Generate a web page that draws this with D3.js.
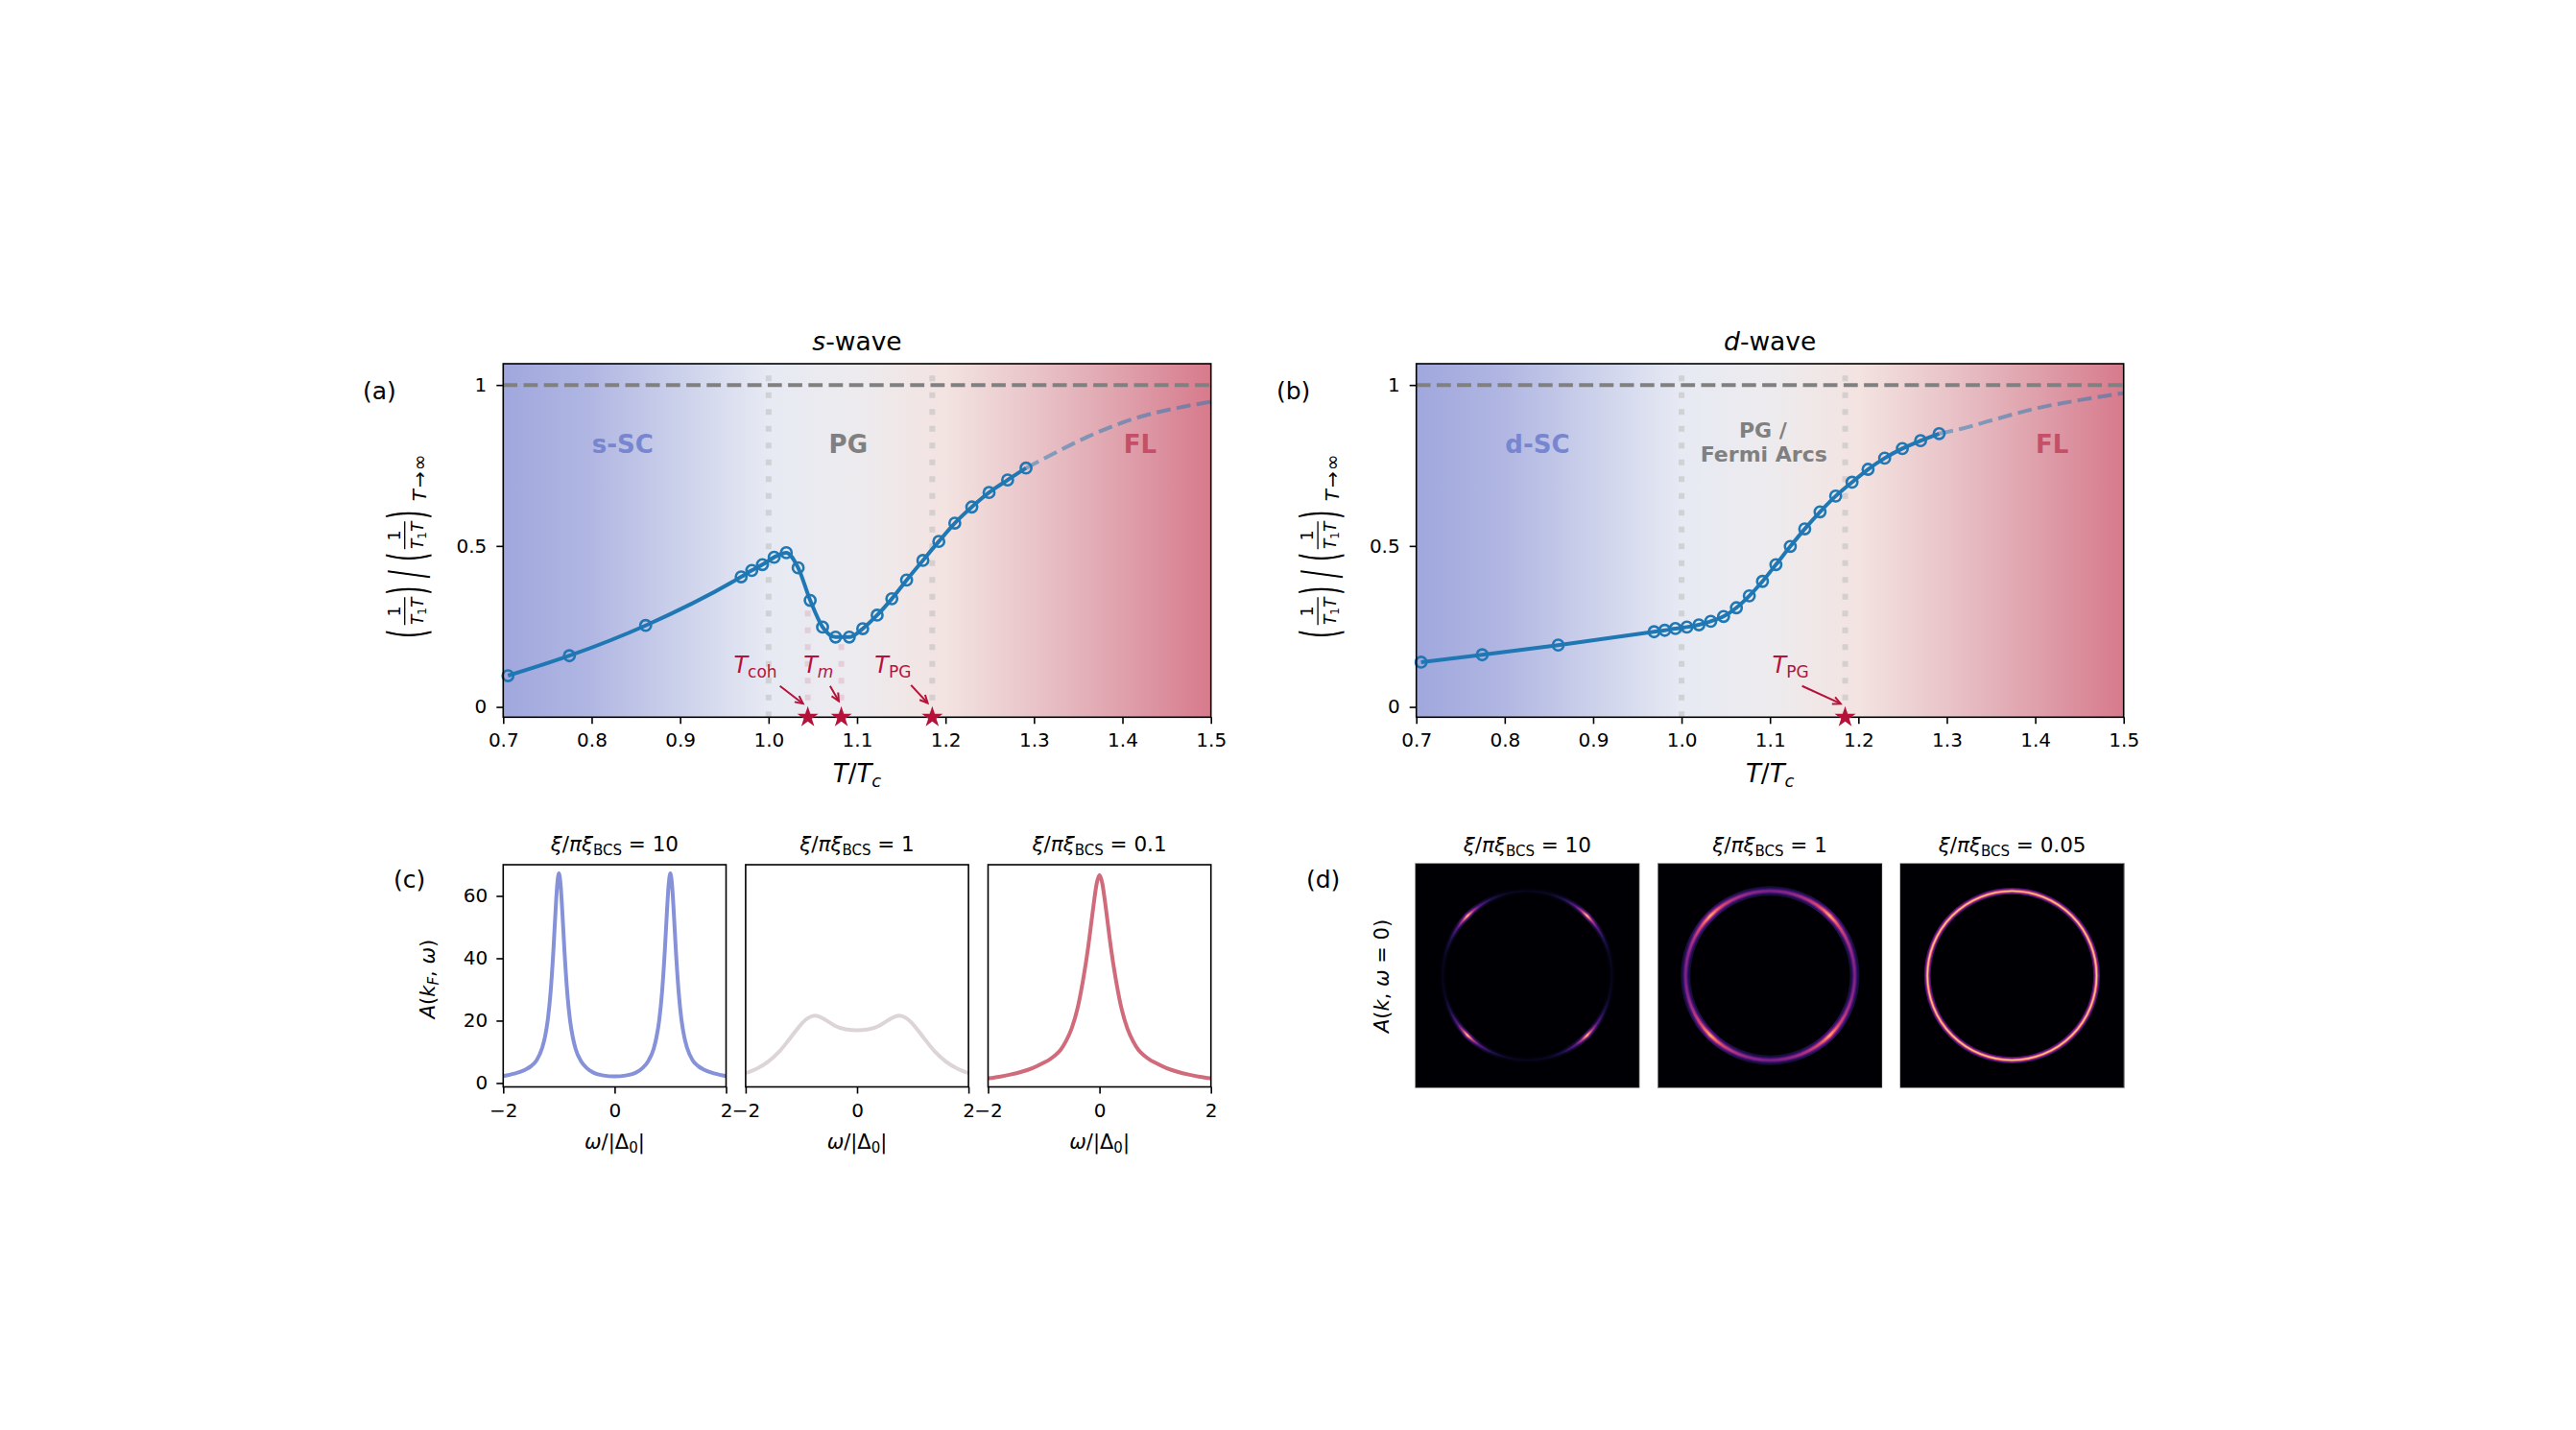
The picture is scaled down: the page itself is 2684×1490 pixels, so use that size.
<!DOCTYPE html>
<html><head><meta charset="utf-8">
<script src="https://cdn.jsdelivr.net/npm/d3@7"></script>
<style>
body{margin:0;background:#fff;}
#wrap{position:relative;width:2684px;height:1490px;overflow:hidden;}
svg{position:absolute;left:0;top:0;}
canvas{position:absolute;}
</style></head><body><div id="wrap"></div>
<script>
// ---------------- data ----------------
const sT    = [0.7054,0.7748,0.861,0.969,0.981,0.993,1.0063,1.020,1.0334,1.047,1.061,1.0757,1.0912,1.1064,1.1227,1.1393,1.156,1.1744,1.1924,1.2105,1.2297,1.2492,1.2702,1.291];
const sRate = [0.097,0.159,0.253,0.404,0.424,0.442,0.465,0.479,0.432,0.331,0.248,0.217,0.217,0.243,0.285,0.336,0.394,0.455,0.514,0.571,0.621,0.666,0.705,0.742];
const sExtT    = [1.291,1.3136,1.3605,1.411,1.4618,1.5];
const sExtRate = [0.742,0.7745,0.839,0.8937,0.9285,0.948];
const dT    = [0.7054,0.7745,0.8604,0.9689,0.981,0.993,1.006,1.0196,1.033,1.0475,1.062,1.0766,1.0915,1.1067,1.123,1.1393,1.1566,1.1743,1.1928,1.2109,1.2297,1.2497,1.2703,1.2913];
const dRate = [0.139,0.162,0.192,0.2335,0.238,0.2434,0.248,0.255,0.266,0.281,0.308,0.345,0.390,0.442,0.4986,0.553,0.606,0.655,0.698,0.738,0.7727,0.8025,0.827,0.849];
const dExtT    = [1.2913,1.3165,1.349,1.403,1.45,1.5];
const dExtRate = [0.849,0.864,0.889,0.9285,0.953,0.975];

const xTicks = [0.7,0.8,0.9,1.0,1.1,1.2,1.3,1.4,1.5];
const xTickLabels = ["0.7","0.8","0.9","1.0","1.1","1.2","1.3","1.4","1.5"];
const yTicks = [0,0.5,1];
const yTickLabels = ["0","0.5","1"];

const Tc = 1.0, Tcoh = 1.0443, Tm = 1.0822, TPG = 1.185;
const markHeightsS = [0.31,0.2];   // faint guide heights at Tcoh, Tm

const bgStops  = [0.7,0.8,0.9,1.0,1.1,1.2,1.3,1.4,1.5];
const bgColors = ["#a0a7dd","#b1b7e2","#ccd1eb","#e7eaf3","#edebee","#f3e3e1","#e9c4c9","#dfa1ac","#d77a8c"];

// panel (c) spectral functions
const wBlue = [-2,-1.8,-1.6,-1.5,-1.4,-1.3,-1.25,-1.2,-1.15,-1.1,-1.06,-1.03,-1,-0.97,-0.94,-0.9,-0.85,-0.8,-0.75,-0.7,-0.6,-0.5,-0.4,-0.2,0,0.2,0.4,0.5,0.6,0.7,0.75,0.8,0.85,0.9,0.94,0.97,1,1.03,1.06,1.1,1.15,1.2,1.25,1.3,1.4,1.5,1.6,1.8,2];
const aBlue = [2.2,3.0,4.3,5.4,7.3,11.3,14.8,20.2,29,42.2,55.3,63.6,67.2,63.6,55.3,42.2,28.9,20.1,14.6,10.9,6.9,4.8,3.5,2.4,2.1,2.4,3.5,4.8,6.9,10.9,14.6,20.1,28.9,42.2,55.3,63.6,67.2,63.6,55.3,42.2,29,20.2,14.8,11.3,7.3,5.4,4.3,3.0,2.2];
const wGray = [-2,-1.8,-1.6,-1.4,-1.2,-1.0,-0.9,-0.8,-0.75,-0.7,-0.6,-0.5,-0.4,-0.2,0,0.2,0.4,0.5,0.6,0.7,0.75,0.8,0.9,1.0,1.2,1.4,1.6,1.8,2];
const aGray = [3.2,4.6,6.8,10.0,14.4,18.9,20.6,21.5,21.6,21.4,20.6,19.5,18.4,17.2,16.9,17.2,18.4,19.5,20.6,21.4,21.6,21.5,20.6,18.9,14.4,10.0,6.8,4.6,3.2];
const wRed = [-2,-1.8,-1.6,-1.4,-1.2,-1.0,-0.9,-0.8,-0.7,-0.6,-0.5,-0.4,-0.3,-0.2,-0.15,-0.1,-0.05,0,0.05,0.1,0.15,0.2,0.3,0.4,0.5,0.6,0.7,0.8,0.9,1.0,1.2,1.4,1.6,1.8,2];
const aRed = [1.5,2.0,2.7,3.6,4.8,6.5,7.5,8.8,10.6,13.5,17.5,23.5,32.5,44,51,58,64,66.7,64,58,51,44,32.5,23.5,17.5,13.5,10.6,8.8,7.5,6.5,4.8,3.6,2.7,2.0,1.5];
const cTitles = ["10","1","0.1"];
const cYTicks = [0,20,40,60];

// panel (d) ring intensity vs angle around the Fermi surface
const ringAngles = [0,15,25,35,40,45,50,55,65,75,90,105,115,125,130,135,140,145,155,165,180,195,205,215,220,225,230,235,245,255,270,285,295,305,310,315,320,325,335,345,360];
const ringI10 = [0.05,0.07,0.14,0.3,0.52,0.88,0.52,0.3,0.14,0.07,0.05, 0.07,0.14,0.3,0.52,0.88,0.52,0.3,0.14,0.07,0.05, 0.07,0.14,0.3,0.52,0.88,0.52,0.3,0.14,0.07,0.05, 0.07,0.14,0.3,0.52,0.88,0.52,0.3,0.14,0.07,0.05];
const ringI1  = [0.36,0.4,0.48,0.6,0.7,0.82,0.7,0.6,0.48,0.4,0.36, 0.4,0.48,0.6,0.7,0.82,0.7,0.6,0.48,0.4,0.36, 0.4,0.48,0.6,0.7,0.82,0.7,0.6,0.48,0.4,0.36, 0.4,0.48,0.6,0.7,0.82,0.7,0.6,0.48,0.4,0.36];
const ringI005 = [0.87,0.87,0.87,0.87,0.87,0.87,0.87,0.87,0.87,0.87,0.87,0.87,0.87,0.87,0.87,0.87,0.87,0.87,0.87,0.87,0.87,0.87,0.87,0.87,0.87,0.87,0.87,0.87,0.87,0.87,0.87,0.87,0.87,0.87,0.87,0.87,0.87,0.87,0.87,0.87,0.87];
const ringWidths = [1.3,2.0,1.35];
const dTitles = ["10","1","0.05"];
const kF = 1.0;

// ---------------- drawing ----------------
const FONT = "DejaVu Sans";
const RED = "#b5123a";
const wrap = d3.select("#wrap");
const svg = wrap.append("svg").attr("width",2684).attr("height",1490)
  .attr("font-family",FONT);
const defs = svg.append("defs");

const yDom = [-0.032,1.066];
const topY = d3.scaleLinear(yDom,[747.3,379]);

function topYLabel(x0,y0){
  const g = svg.append("g").attr("transform",`translate(${x0},${y0}) rotate(-90)`);
  const paren = (lx,ch)=>{
    g.append("g").attr("transform",`translate(${lx},4.5) scale(1,2.2)`)
     .append("text").attr("font-size",24).attr("y",7.6).attr("text-anchor","middle").text(ch);
  };
  const frac = (cx)=>{
    g.append("text").attr("x",cx).attr("y",-5).attr("font-size",17).attr("text-anchor","middle").text("1");
    g.append("line").attr("x1",cx-14.5).attr("x2",cx+14.5).attr("y1",0).attr("y2",0).attr("stroke","#000").attr("stroke-width",1.3);
    const t = g.append("text").attr("x",cx).attr("y",19).attr("font-size",17).attr("text-anchor","middle");
    t.append("tspan").attr("font-style","italic").text("T");
    t.append("tspan").attr("font-size",12).attr("dy",3).text("1");
    t.append("tspan").attr("font-style","italic").attr("dy",-3).text("T");
  };
  paren(8,"(");
  frac(31.5);
  paren(53,")");
  paren(70,"/");
  paren(88,"(");
  frac(110.5);
  paren(132,")");
  const s = g.append("text").attr("x",146).attr("y",22).attr("font-size",20);
  s.append("tspan").attr("font-style","italic").text("T");
  s.append("tspan").attr("dx",2).text("→");
  s.append("tspan").attr("dx",1).text("∞");
}

function drawTop(o){
  const x = d3.scaleLinear([0.7,1.5],[o.left,o.right]);
  const y = topY;
  const g = svg.append("g");
  const grad = defs.append("linearGradient").attr("id","bg"+o.id)
    .attr("gradientUnits","userSpaceOnUse").attr("x1",x(0.7)).attr("x2",x(1.5)).attr("y1",0).attr("y2",0);
  bgStops.forEach((s,i)=>grad.append("stop").attr("offset",(s-0.7)/0.8).attr("stop-color",bgColors[i]));
  g.append("rect").attr("x",x(0.7)).attr("y",y(yDom[1])).attr("width",x(1.5)-x(0.7))
    .attr("height",y(yDom[0])-y(yDom[1])).attr("fill",`url(#bg${o.id})`);

  [Tc,TPG].forEach(v=>g.append("line").attr("x1",x(v)).attr("x2",x(v))
    .attr("y1",y(yDom[0])).attr("y2",y(yDom[1]))
    .attr("stroke","#c2c2c2").attr("stroke-opacity",0.6).attr("stroke-width",6).attr("stroke-dasharray","6,11.5"));
  if(o.marks){
    o.marks.forEach((v,i)=>g.append("line").attr("x1",x(v)).attr("x2",x(v))
      .attr("y1",y(yDom[0])).attr("y2",y(markHeightsS[i]))
      .attr("stroke",RED).attr("stroke-opacity",0.13).attr("stroke-width",6).attr("stroke-dasharray","6,11.5"));
  }
  g.append("line").attr("x1",x(0.7)).attr("x2",x(1.5)).attr("y1",y(1)).attr("y2",y(1))
    .attr("stroke","#808080").attr("stroke-width",4).attr("stroke-dasharray","14.8,6.4");

  const line = d3.line().x(d=>x(d[0])).y(d=>y(d[1])).curve(d3.curveMonotoneX);
  g.append("path").attr("d",line(o.extT.map((t,i)=>[t,o.extR[i]])))
    .attr("fill","none").attr("stroke","#1f77b4").attr("stroke-opacity",0.5).attr("stroke-width",4)
    .attr("stroke-dasharray","14.8,6.4");
  const pts = o.T.map((t,i)=>[t,o.R[i]]);
  g.append("path").attr("d",line(pts)).attr("fill","none").attr("stroke","#1f77b4").attr("stroke-width",4);
  g.selectAll("circle.m").data(pts).join("circle").attr("class","m")
    .attr("cx",d=>x(d[0])).attr("cy",d=>y(d[1])).attr("r",5.6)
    .attr("fill","none").attr("stroke","#1f77b4").attr("stroke-width",2.6);

  const lab = (tx,ty,txt,col,size)=>g.append("text").attr("x",x(tx)).attr("y",y(ty))
    .attr("text-anchor","middle").attr("dominant-baseline","central")
    .attr("font-weight","bold").attr("font-size",size).attr("fill",col).text(txt);
  o.labels.forEach(l=>lab(l[0],l[1],l[2],l[3],l[4]));

  const xa = g.append("g").attr("transform",`translate(0,${y(yDom[0])})`)
    .call(d3.axisBottom(x).tickValues(xTicks).tickFormat((d,i)=>xTickLabels[i]).tickSize(7).tickPadding(10));
  const ya = g.append("g").attr("transform",`translate(${x(0.7)},0)`)
    .call(d3.axisLeft(y).tickValues(yTicks).tickFormat((d,i)=>yTickLabels[i]).tickSize(7).tickPadding(10));
  [xa,ya].forEach(a=>{a.attr("font-size",20).attr("font-family",FONT);
    a.select(".domain").remove(); a.selectAll("line").attr("stroke","#000").attr("stroke-width",1.6);
    a.selectAll("text").attr("fill","#000");});
  g.append("rect").attr("x",x(0.7)).attr("y",y(yDom[1])).attr("width",x(1.5)-x(0.7))
    .attr("height",y(yDom[0])-y(yDom[1])).attr("fill","none").attr("stroke","#000").attr("stroke-width",1.6);

  const star = d3.symbol(d3.symbolStar,150);
  o.stars.forEach(v=>g.append("path").attr("d",star()).attr("fill",RED)
    .attr("transform",`translate(${x(v)},${y(yDom[0])})`));
  o.anns.forEach(a=>{
    const t = g.append("text").attr("x",x(a.tx)).attr("y",y(0.107)).attr("text-anchor","middle")
      .attr("font-size",24).attr("fill",RED);
    t.append("tspan").attr("font-style","italic").text("T");
    t.append("tspan").attr("font-size",17).attr("dy",5).attr("font-style",a.subItalic?"italic":"normal").text(a.sub);
    const x1=x(a.x1),y1=y(a.y1),x2=x(a.x2),y2=y(a.y2);
    g.append("line").attr("x1",x1).attr("y1",y1).attr("x2",x2).attr("y2",y2)
      .attr("stroke",RED).attr("stroke-width",2);
    const ang = Math.atan2(y2-y1,x2-x1), L=9, sp=0.45;
    g.append("path").attr("d",`M${x2-L*Math.cos(ang-sp)},${y2-L*Math.sin(ang-sp)}L${x2},${y2}L${x2-L*Math.cos(ang+sp)},${y2-L*Math.sin(ang+sp)}`)
      .attr("fill","none").attr("stroke",RED).attr("stroke-width",2);
  });

  const cx = (o.left+o.right)/2;
  const tt = svg.append("text").attr("x",cx).attr("y",365).attr("text-anchor","middle").attr("font-size",26.5);
  tt.append("tspan").attr("font-style","italic").text(o.titleIt);
  tt.append("tspan").text("-wave");
  const xl = svg.append("text").attr("x",cx).attr("y",815).attr("text-anchor","middle").attr("font-size",26);
  xl.append("tspan").attr("font-style","italic").text("T");
  xl.append("tspan").text("/");
  xl.append("tspan").attr("font-style","italic").text("T");
  xl.append("tspan").attr("font-style","italic").attr("font-size",18).attr("dy",5).text("c");
  svg.append("text").attr("x",o.tagX).attr("y",416).attr("font-size",25).text(o.tag);
  topYLabel(o.left-102.6,668.3);
}

drawTop({id:"a",left:524.3,right:1261.7,T:sT,R:sRate,extT:sExtT,extR:sExtRate,marks:[Tcoh,Tm],
  labels:[[0.835,0.815,"s-SC","#7886d0",26],[1.09,0.815,"PG","#808080",26],[1.42,0.815,"FL","#c64f67",26]],
  stars:[Tcoh,Tm,TPG],
  anns:[{tx:0.985,sub:"coh",x1:1.0128,y1:0.065,x2:1.0389,y2:0.010},
        {tx:1.0564,sub:"m",subItalic:true,x1:1.0695,y1:0.065,x2:1.0793,y2:0.018},
        {tx:1.1405,sub:"PG",x1:1.161,y1:0.0676,x2:1.1798,y2:0.012}],
  titleIt:"s",tag:"(a)",tagX:378});
drawTop({id:"b",left:1475.7,right:2212.7,T:dT,R:dRate,extT:dExtT,extR:dExtRate,marks:null,
  labels:[[0.837,0.815,"d-SC","#7886d0",26],[1.092,0.859,"PG /","#808080",22],[1.093,0.785,"Fermi Arcs","#808080",22],[1.419,0.815,"FL","#c64f67",26]],
  stars:[TPG],
  anns:[{tx:1.1232,sub:"PG",x1:1.1363,y1:0.065,x2:1.1799,y2:0.010}],
  titleIt:"d",tag:"(b)",tagX:1330});

function xiTitle(cx,base,val){
  const t = svg.append("text").attr("x",cx).attr("y",base).attr("text-anchor","middle").attr("font-size",21.5);
  t.append("tspan").attr("font-style","italic").text("ξ");
  t.append("tspan").text("/");
  t.append("tspan").attr("font-style","italic").text("πξ");
  t.append("tspan").attr("font-size",15).attr("dy",4).text("BCS");
  t.append("tspan").attr("dy",-4).text(" = "+val);
}

// ---------------- panel (c) ----------------
const cLefts = [524.3,776.9,1029.5], cW = 232.2, cTop = 901, cBot = 1132.5;
const cSeries = [[wBlue,aBlue,"#8591d9"],[wGray,aGray,"#dcd4d7"],[wRed,aRed,"#d06b7c"]];
const cy = d3.scaleLinear([-1.25,70],[cBot,cTop]);
cLefts.forEach((L,k)=>{
  const x = d3.scaleLinear([-2,2],[L,L+cW]);
  const g = svg.append("g");
  const [w,a,col] = cSeries[k];
  const ln = d3.line().x(d=>x(d[0])).y(d=>cy(d[1])).curve(d3.curveMonotoneX);
  g.append("path").attr("d",ln(w.map((v,i)=>[v,a[i]]))).attr("fill","none").attr("stroke",col).attr("stroke-width",4);
  const xa = g.append("g").attr("transform",`translate(0,${cBot})`)
    .call(d3.axisBottom(x).tickValues([-2,0,2]).tickFormat(d=>d<0?"−"+Math.abs(d):String(d)).tickSize(7).tickPadding(10));
  const axes=[xa];
  if(k===0){
    axes.push(g.append("g").attr("transform",`translate(${L},0)`)
      .call(d3.axisLeft(cy).tickValues(cYTicks).tickSize(7).tickPadding(9)));
  }
  axes.forEach(a=>{a.attr("font-size",20).attr("font-family",FONT);
    a.select(".domain").remove(); a.selectAll("line").attr("stroke","#000").attr("stroke-width",1.6);
    a.selectAll("text").attr("fill","#000");});
  g.append("rect").attr("x",L).attr("y",cTop).attr("width",cW).attr("height",cBot-cTop)
    .attr("fill","none").attr("stroke","#000").attr("stroke-width",1.6);
  xiTitle(L+cW/2,887,cTitles[k]);
  const xl = svg.append("text").attr("x",L+cW/2).attr("y",1197).attr("text-anchor","middle").attr("font-size",21);
  xl.append("tspan").attr("font-style","italic").text("ω");
  xl.append("tspan").text("/|Δ");
  xl.append("tspan").attr("font-size",15).attr("dy",4).text("0");
  xl.append("tspan").attr("dy",-4).text("|");
});
{
  const t = svg.append("text").attr("transform","translate(453,1020) rotate(-90)").attr("text-anchor","middle").attr("font-size",21);
  t.append("tspan").attr("font-style","italic").text("A");
  t.append("tspan").text("(");
  t.append("tspan").attr("font-style","italic").text("k");
  t.append("tspan").attr("font-style","italic").attr("font-size",15).attr("dy",4).text("F");
  t.append("tspan").attr("dy",-4).text(", ");
  t.append("tspan").attr("font-style","italic").text("ω");
  t.append("tspan").text(")");
  svg.append("text").attr("x",410).attr("y",925).attr("font-size",25).text("(c)");
}

// ---------------- panel (d) ----------------
const dLefts = [1475,1727.7,1980.3], dW = 232.7, dTop = 900, dBot = 1133;
const rings = [ringI10, ringI1, ringI005];
const magma = d3.scaleSequential(d3.interpolateMagma).domain([0,1]);
dLefts.forEach((L,k)=>{
  const kx = d3.scaleLinear([-1.32,1.32],[0,dW]);
  const ky = d3.scaleLinear([-1.32,1.32],[dBot-dTop,0]);
  const cv = wrap.append("canvas").attr("width",Math.round(dW)).attr("height",Math.round(dBot-dTop))
    .style("left",L+"px").style("top",dTop+"px");
  const ctx = cv.node().getContext("2d");
  ctx.fillStyle = magma(0); ctx.fillRect(0,0,dW,dBot-dTop);
  const cxp = kx(0), cyp = ky(0), r = kx(kF)-kx(0);
  const layers = [[5,0.28],[3,0.52],[1.8,0.78],[1,1]];
  ctx.filter = "blur(0.6px)";
  layers.forEach(([wf,f])=>{
    let style;
    if(ctx.createConicGradient){
      style = ctx.createConicGradient(0,cxp,cyp);
      ringAngles.forEach((ang,i)=>style.addColorStop(ang/360, magma(rings[k][i]*f)));
    } else { style = magma(d3.mean(rings[k])*f); }
    ctx.strokeStyle = style; ctx.lineWidth = ringWidths[k]*wf;
    ctx.beginPath(); ctx.arc(cxp,cyp,r,0,Math.PI*2); ctx.stroke();
  });
  svg.append("rect").attr("x",L).attr("y",dTop).attr("width",dW).attr("height",dBot-dTop)
    .attr("fill","none").attr("stroke","#777").attr("stroke-width",1.5);
  xiTitle(L+dW/2,888,dTitles[k]);
});
{
  const t = svg.append("text").attr("transform","translate(1447,1017) rotate(-90)").attr("text-anchor","middle").attr("font-size",21);
  t.append("tspan").attr("font-style","italic").text("A");
  t.append("tspan").text("(");
  t.append("tspan").attr("font-style","italic").text("k");
  t.append("tspan").text(", ");
  t.append("tspan").attr("font-style","italic").text("ω");
  t.append("tspan").text(" = 0)");
  svg.append("text").attr("x",1361).attr("y",925).attr("font-size",25).text("(d)");
}
</script></body></html>
